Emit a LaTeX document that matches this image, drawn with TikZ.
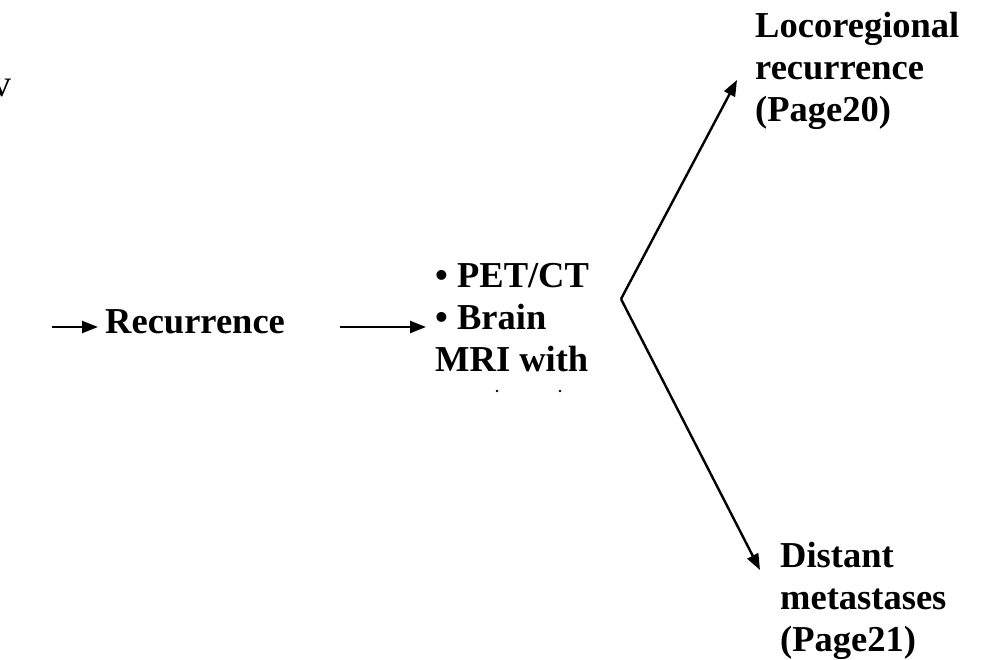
\documentclass[tikz,border=0pt]{standalone}
\usepackage{fontspec}
\setmainfont{Liberation Serif}
\usetikzlibrary{arrows.meta}
\begin{document}
\begin{tikzpicture}[x=1pt,y=-1pt,
  lbl/.style={font=\bfseries\fontsize{36.5}{42}\selectfont, inner sep=0pt, align=left},
  conn/.style={line width=2.4pt, -{Triangle[length=16pt,width=12pt]}}]
\useasboundingbox (0,0) rectangle (981,660);
\clip (0,0) rectangle (981,660);
% clipped fragment at the left edge
\node[font=\fontsize{38}{40}\selectfont, inner sep=0pt, anchor=base east] (frag) at (12,97) {v};
\coordinate (a1s) at (52,327);
\coordinate (a1e) at (98,327);
\node[lbl, anchor=base west] (rec) at (105,333) {Recurrence};
\node[lbl, anchor=base west] (tests) at (435,371) {• PET/CT\\• Brain\\MRI with};
\fill (497,391) circle (1.4);
\fill (560,391) circle (1.4);
\coordinate (a2s) at (340,327);
\coordinate (a2e) at (426,327);
\coordinate (v) at (621,299);
\coordinate (t1) at (737,80);
\coordinate (t2) at (760,570);
\node[lbl, anchor=base west] (loco) at (755,122) {Locoregional\\recurrence\\(Page20)};
\node[lbl, anchor=base west] (dist) at (780,651) {Distant\\metastases\\(Page21)};
\draw[conn] (a1s) -- (a1e);
\draw[conn] (a2s) -- (a2e);
\draw[conn] (v) -- (t1);
\draw[conn] (v) -- (t2);
\end{tikzpicture}
\end{document}
